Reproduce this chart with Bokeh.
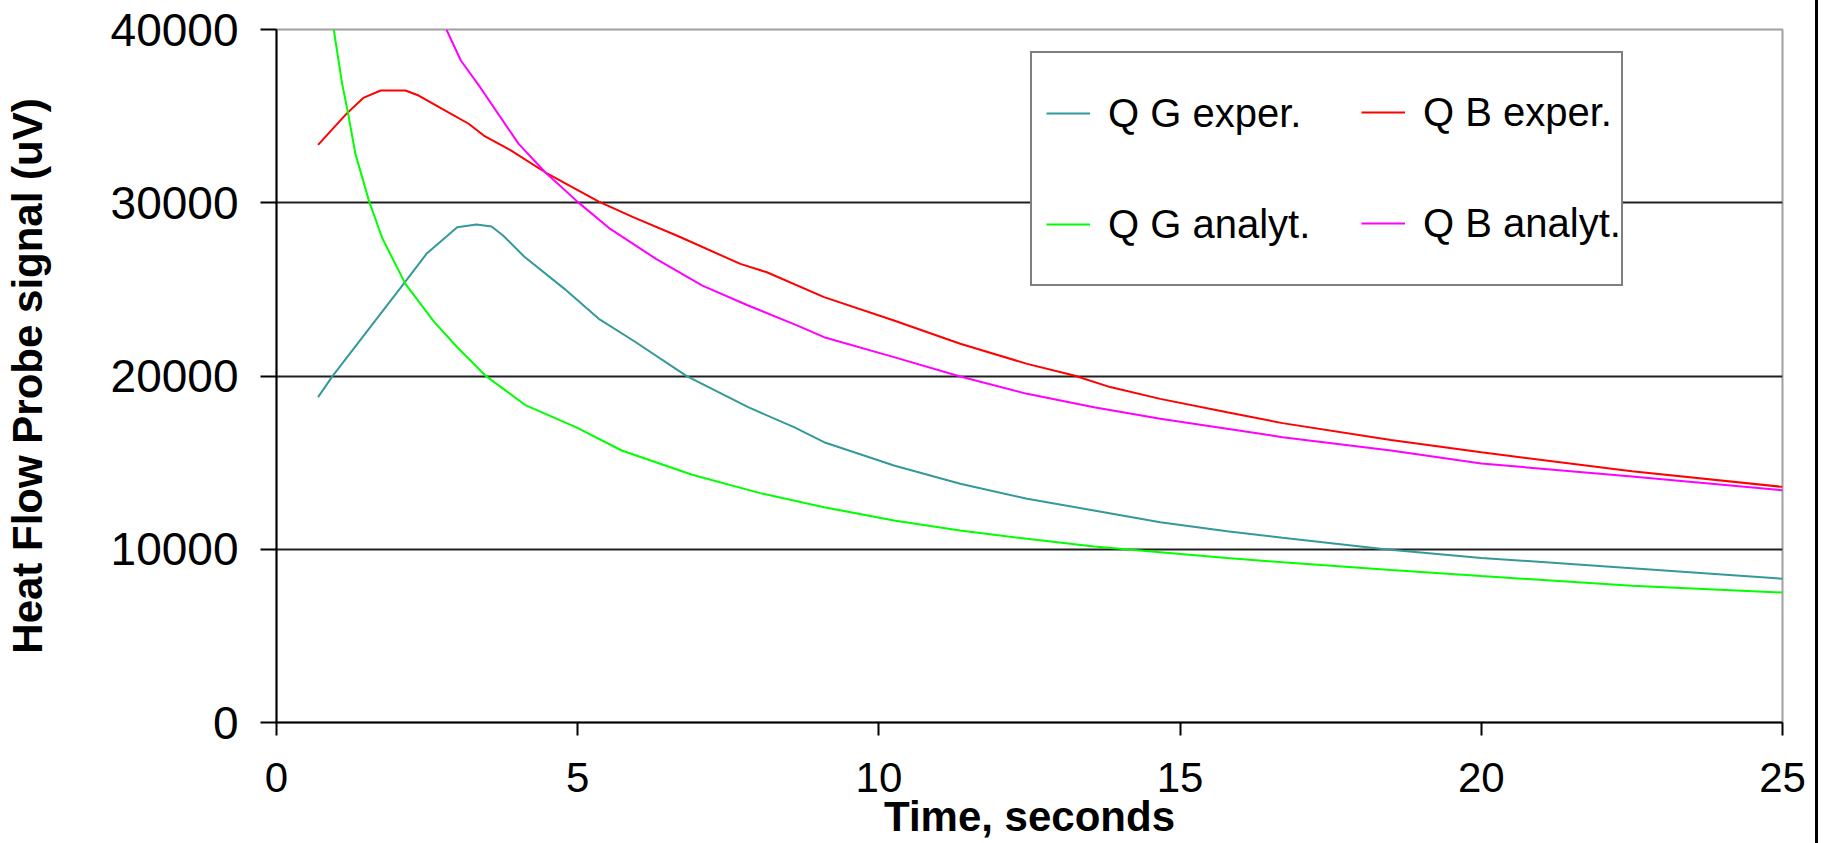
from bokeh.plotting import figure
from bokeh.models import Range1d, FixedTicker, Legend, LegendItem
from bokeh.embed import file_html
from bokeh.resources import INLINE

# ---- data ----
qg_exp_t = [0.69, 0.93, 1.47, 2.11, 2.49, 3.0, 3.32, 3.57, 3.76, 4.11, 4.78, 5.35, 5.92, 6.81,
            7.83, 8.59, 9.09, 10.25, 11.35, 12.46, 13.57, 14.67, 15.78, 16.70, 18.4, 20.0, 22.5, 25.0]
qg_exp_v = [18780, 19990, 22430, 25320, 27050, 28590, 28745, 28630, 28110, 26900, 25030, 23300, 22050, 19990,
            18200, 17045, 16180, 14830, 13780, 12910, 12240, 11560, 11040, 10660, 10000, 9500, 8900, 8300]

qb_exp_t = [0.69, 1.16, 1.44, 1.73, 2.14, 2.36, 2.75, 3.19, 3.44, 3.89, 4.46, 5.35, 5.92, 6.68, 7.70,
            8.14, 9.09, 10.25, 11.35, 12.46, 13.24, 13.84, 14.67, 15.78, 16.70, 18.5, 20.0, 22.5, 25.0]
qb_exp_v = [33340, 35130, 36050, 36480, 36480, 36190, 35420, 34560, 33880, 33020, 31760, 30070, 29170, 28050, 26470,
            25990, 24550, 23200, 21860, 20700, 20030, 19360, 18680, 17910, 17280, 16300, 15600, 14500, 13600]

qg_an_t = [0.95, 1.09, 1.19, 1.31, 1.54, 1.76, 2.14, 2.62, 3.0, 3.48, 4.14, 4.97, 5.73, 6.9, 8.03,
           9.09, 10.25, 11.35, 12.46, 13.57, 14.67, 15.78, 16.70, 18.5, 20.0, 22.5, 25.0]
qg_an_v = [40000, 36860, 35130, 32820, 30050, 27920, 25320, 23110, 21660, 19990, 18300, 17045, 15700, 14300, 13240,
           12430, 11660, 11080, 10600, 10160, 9830, 9500, 9250, 8800, 8450, 7900, 7500]

qb_an_t = [2.82, 3.06, 3.38, 3.70, 4.02, 4.46, 5.0, 5.54, 6.30, 7.07, 7.83, 8.65, 9.09, 10.25, 11.35,
           12.46, 13.57, 14.67, 15.78, 16.70, 18.5, 20.0, 22.5, 25.0]
qb_an_v = [40000, 38210, 36670, 35030, 33400, 31760, 30050, 28490, 26760, 25220, 24070, 22910, 22240, 21090, 19970,
           18970, 18200, 17530, 16950, 16470, 15700, 14950, 14200, 13400]

series_names = ["Q G exper.", "Q B exper.", "Q G analyt.", "Q B analyt."]
series_colors = ["#339999", "#ff0000", "#00ff00", "#ff00ff"]

x_ticks = [0, 5, 10, 15, 20, 25]
y_ticks = [0, 10000, 20000, 30000, 40000]
grid_ticks = [10000, 20000, 30000]

FONT = "Liberation Sans"

W, H = 1818, 843
LEFT, TOP, FW, FH = 276, 29, 1506, 693

p = figure(width=W, height=H, output_backend="svg", toolbar_location=None,
           x_range=Range1d(0, 25), y_range=Range1d(0, 40000),
           min_border_left=LEFT, min_border_top=TOP,
           min_border_right=W - LEFT - FW, min_border_bottom=H - TOP - FH)
p.styles = {"border-right": "3px solid black"}
p.background_fill_color = "white"
p.border_fill_color = "white"
p.outline_line_color = "#a0a0a0"
p.outline_line_width = 2

# grids
p.xgrid.visible = False
p.ygrid.ticker = FixedTicker(ticks=grid_ticks)
p.ygrid.grid_line_color = "#202020"
p.ygrid.grid_line_width = 2

# axes
for ax in (p.xaxis[0], p.yaxis[0]):
    ax.axis_line_color = "black"
    ax.axis_line_width = 2
    ax.major_tick_line_color = "black"
    ax.major_tick_line_width = 2
    ax.major_tick_in = 0
    ax.minor_tick_line_color = None
    ax.major_label_text_font = FONT
    ax.major_label_text_color = "black"
    ax.axis_label_text_font = FONT
    ax.axis_label_text_font_style = "bold"
    ax.axis_label_text_color = "black"

p.xaxis.ticker = FixedTicker(ticks=x_ticks)
p.xaxis.major_tick_out = 13
p.xaxis.major_label_text_font_size = "42px"
p.xaxis.major_label_standoff = 27
p.xaxis.axis_label = "Time, seconds"
p.xaxis.axis_label_text_font_size = "42px"
p.xaxis.axis_label_standoff = -2

p.yaxis.ticker = FixedTicker(ticks=y_ticks)
p.yaxis.major_tick_out = 16
p.yaxis.major_label_text_font_size = "46px"
p.yaxis.major_label_standoff = 22
p.yaxis.axis_label = "Heat Flow Probe signal (uV)"
p.yaxis.axis_label_text_font_size = "42px"
p.yaxis.axis_label_standoff = 57

data = [(qg_exp_t, qg_exp_v), (qb_exp_t, qb_exp_v), (qg_an_t, qg_an_v), (qb_an_t, qb_an_v)]
renderers = []
for (t, v), col in zip(data, series_colors):
    renderers.append(p.line(t, v, line_color=col, line_width=2))

# legend: two columns, drawn as one bordered box plus an overlaid second column
leg_style = dict(label_text_font=FONT, label_text_font_size="40px", label_text_color="black",
                 glyph_width=44, glyph_height=92, label_height=92, label_standoff=18,
                 spacing=19, padding=14, margin=0, orientation="vertical")
col1 = Legend(items=[LegendItem(label=series_names[0], renderers=[renderers[0]]),
                     LegendItem(label=series_names[2], renderers=[renderers[2]])],
              location=(754, 436), label_width=499,
              border_line_color="black", border_line_width=2,
              background_fill_color="white", background_fill_alpha=1.0, **leg_style)
col2 = Legend(items=[LegendItem(label=series_names[1], renderers=[renderers[1]]),
                     LegendItem(label=series_names[3], renderers=[renderers[3]])],
              location=(1085, 453),
              border_line_color=None, background_fill_alpha=0.0, **leg_style)
p.add_layout(col1)
p.add_layout(col2)

open("out.html", "w").write(file_html(p, INLINE))
